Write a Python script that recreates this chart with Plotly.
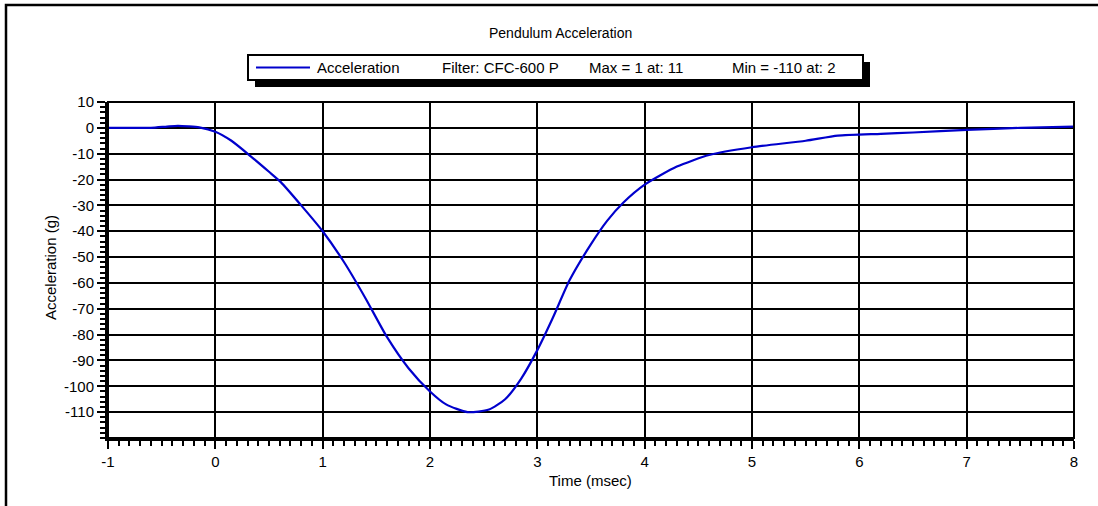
import plotly.graph_objects as go

# Pendulum acceleration trace (time in msec, acceleration in g)
time_ms = [-1.0, -0.8, -0.6, -0.45, -0.35, -0.25, -0.15, 0.0, 0.15, 0.33, 0.5, 0.61,
           0.8, 1.0, 1.2, 1.4, 1.6, 1.8, 2.0, 2.15, 2.35, 2.55, 2.7, 2.85, 3.0,
           3.15, 3.3, 3.5, 3.65, 3.8, 4.0, 4.3, 4.6, 5.0, 5.5, 5.8, 6.2, 6.5, 7.0,
           7.5, 8.0]
accel_g = [0, 0, 0, 0.5, 0.8, 0.6, 0.2, -1.5, -5, -11, -17, -21,
           -30, -40, -52, -66, -81, -93, -102, -107, -110, -109, -105, -97, -86,
           -73, -59, -45, -36, -29, -22, -15, -10.5, -7.5, -5, -3, -2.3, -1.8, -0.8,
           0, 0.5]

x_ticks = [-1, 0, 1, 2, 3, 4, 5, 6, 7, 8]
y_ticks = [10, 0, -10, -20, -30, -40, -50, -60, -70, -80, -90, -100, -110]

legend_items = ["Acceleration", "Filter: CFC-600 P", "Max = 1 at: 11", "Min = -110 at: 2"]

W, H = 1098, 506
L, R, T, B = 108, 1074, 102, 438
FONT = "Liberation Sans, Arial, sans-serif"
FS = 15


def px(xp):
    return (xp - L) / (R - L)


def py(yp):
    return (B - yp) / (B - T)


fig = go.Figure()
fig.add_trace(go.Scatter(
    x=time_ms, y=accel_g, mode="lines",
    line=dict(color="#0000cc", width=2.2, shape="spline", smoothing=0.6),
    showlegend=False, hoverinfo="skip"))

axis_common = dict(
    showgrid=True, gridcolor="black", gridwidth=2,
    showline=True, linecolor="black", linewidth=3,
    ticks="outside", ticklen=8, tickwidth=2, tickcolor="black",
    tickfont=dict(family=FONT, size=FS, color="black"),
    zeroline=False,
)

fig.update_xaxes(range=[-1, 8], tickvals=x_ticks, ticktext=[str(v) for v in x_ticks],
                 minor=dict(dtick=0.1, tick0=0, ticks="outside", ticklen=5, tickwidth=2,
                            tickcolor="black", showgrid=False),
                 **axis_common)
fig.update_yaxes(range=[-120, 10], tickvals=y_ticks, ticktext=[str(v) for v in y_ticks],
                 minor=dict(dtick=2, tick0=0, ticks="outside", ticklen=5, tickwidth=2,
                            tickcolor="black", showgrid=False),
                 **axis_common)

shapes = []
# Frame at top and right edges of the plot area
shapes.append(dict(type="rect", xref="paper", yref="paper", x0=0, y0=0, x1=1, y1=1,
                   line=dict(color="black", width=2), layer="above"))
# Outer border of the chart
shapes.append(dict(type="rect", xref="paper", yref="paper", x0=px(6), y0=py(5), x1=px(1110), y1=py(520),
                   line=dict(color="black", width=2.5), layer="above"))
# Legend shadow and box
shapes.append(dict(type="rect", xref="paper", yref="paper", x0=px(255), y0=py(62), x1=px(870), y1=py(87),
                   fillcolor="black", line=dict(width=0), layer="above"))
shapes.append(dict(type="rect", xref="paper", yref="paper", x0=px(248), y0=py(55), x1=px(863), y1=py(80),
                   fillcolor="white", line=dict(color="black", width=2), layer="above"))
# Legend line sample
shapes.append(dict(type="line", xref="paper", yref="paper", x0=px(256), y0=py(67.5), x1=px(310), y1=py(67.5),
                   line=dict(color="#0000cc", width=2), layer="above"))

annotations = []
legend_x = [315, 440, 587, 730]
for xp, txt in zip(legend_x, legend_items):
    annotations.append(dict(x=px(xp), y=py(67.5), xref="paper", yref="paper", text=txt,
                            showarrow=False, xanchor="left", yanchor="middle",
                            font=dict(family=FONT, size=FS, color="black")))

annotations.append(dict(x=px(560), y=py(33), xref="paper", yref="paper", text="Pendulum Acceleration",
                        showarrow=False, xanchor="center", yanchor="middle",
                        font=dict(family=FONT, size=FS - 1, color="black")))
annotations.append(dict(x=px(590), y=py(480), xref="paper", yref="paper", text="Time (msec)",
                        showarrow=False, xanchor="center", yanchor="middle",
                        font=dict(family=FONT, size=FS, color="black")))
annotations.append(dict(x=px(50), y=py(268), xref="paper", yref="paper", text="Acceleration (g)",
                        showarrow=False, xanchor="center", yanchor="middle", textangle=-90,
                        font=dict(family=FONT, size=FS, color="black")))

fig.update_layout(
    width=W, height=H,
    margin=dict(l=L, r=W - R, t=T, b=H - B, pad=0),
    paper_bgcolor="white", plot_bgcolor="white",
    shapes=shapes, annotations=annotations,
    showlegend=False,
    font=dict(family=FONT, size=FS, color="black"),
)

fig.write_html("out.html", include_plotlyjs=True, config={"displayModeBar": False})
